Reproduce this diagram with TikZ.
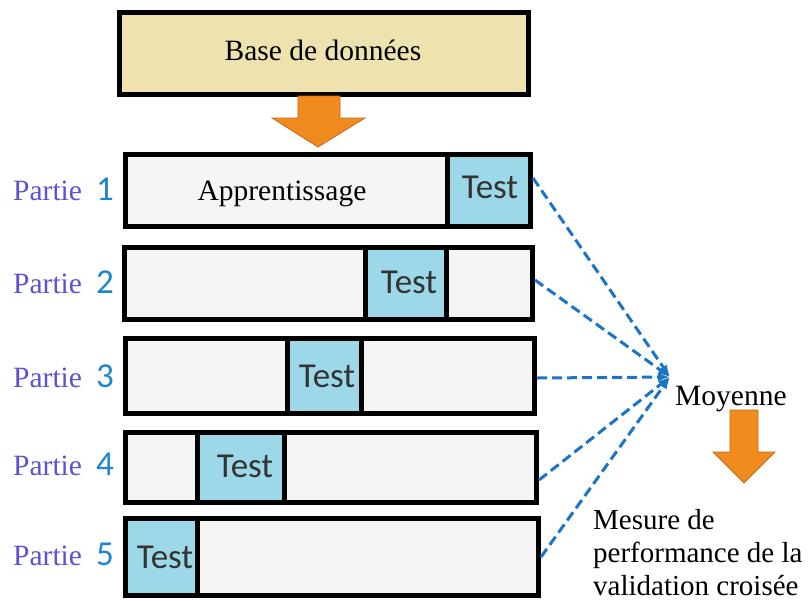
\documentclass[tikz,border=0pt]{standalone}
\usepackage{fontspec}
\setmainfont{Liberation Serif}
\newfontfamily\carlito{Carlito}
\usetikzlibrary{arrows.meta}

\definecolor{dbfill}{HTML}{EEE2AE}
\definecolor{rowfill}{HTML}{F5F5F5}
\definecolor{testfill}{HTML}{9DD8E8}
\definecolor{orangefill}{HTML}{F28B1E}
\definecolor{orangeedge}{HTML}{C06A1A}
\definecolor{partiecol}{HTML}{5A52D2}
\definecolor{numcol}{HTML}{1C84D0}
\definecolor{linkcol}{HTML}{1B74C6}
\definecolor{testtext}{HTML}{333333}

\tikzset{
  frame/.style={draw=black, line width=5pt, inner sep=0pt},
  dbbox/.style={frame, fill=dbfill, minimum width=409pt, minimum height=82pt},
  rowbox/.style={frame, fill=rowfill},
  testbox/.style={frame, fill=testfill},
  testlabel/.style={inner sep=0pt, anchor=base, text=testtext,
    font=\carlito\fontsize{35}{40}\selectfont},
  serif/.style={inner sep=0pt, font=\fontsize{29.5}{33.5}\selectfont},
  partie/.style={inner sep=0pt, anchor=base west},
  link/.style={draw=linkcol, line width=3pt, dash pattern=on 10pt off 5pt,
    -{Latex[length=12pt,width=9pt]}},
  bigarrow/.style={fill=orangefill, draw=orangeedge, line width=0.8pt},
}

\newcommand{\partielabel}[1]{{\color{partiecol}\fontsize{29.5}{33}\selectfont Partie}\hspace{14pt}{\color{numcol}\carlito\fontsize{35}{36}\selectfont #1}}

\begin{document}
\begin{tikzpicture}[x=1pt, y=-1pt]
\useasboundingbox (0,0) rectangle (810,600);

% database
\node[dbbox] (db) at (324,53) {};
\node[serif, anchor=base] (dbtext) at (323,60) {Base de données};

% arrow from the database to the splits
\path[bigarrow] (298,96) -- (340,96) -- (340,118) -- (365,118) -- (318,147)
  -- (272,118) -- (298,118) -- cycle;

% the five splits
\node[rowbox, minimum width=405pt, minimum height=72pt] (row1) at (328,190.5) {};
\node[rowbox, minimum width=408pt, minimum height=72pt] (row2) at (328.5,283.5) {};
\node[rowbox, minimum width=409pt, minimum height=75pt] (row3) at (330,376) {};
\node[rowbox, minimum width=411pt, minimum height=70pt] (row4) at (331,467.5) {};
\node[rowbox, minimum width=413pt, minimum height=77pt] (row5) at (332,557) {};

% test folds
\node[testbox, minimum width=83pt, minimum height=72pt] (test1) at (489,190.5) {};
\node[testbox, minimum width=81pt, minimum height=72pt] (test2) at (406,283.5) {};
\node[testbox, minimum width=74pt, minimum height=75pt] (test3) at (324.5,376) {};
\node[testbox, minimum width=87pt, minimum height=70pt] (test4) at (241,467.5) {};
\node[testbox, minimum width=72pt, minimum height=77pt] (test5) at (161.5,557) {};

\node[testlabel] (t1) at (490,198) {Test};
\node[testlabel] (t2) at (409,293) {Test};
\node[testlabel] (t3) at (327,387) {Test};
\node[testlabel] (t4) at (245,477) {Test};
\node[testlabel] (t5) at (165,568) {Test};

\node[serif, anchor=base] (appr) at (282,200) {Apprentissage};

% split labels
\node[partie] (p1) at (13,200) {\partielabel{1}};
\node[partie] (p2) at (13,293) {\partielabel{2}};
\node[partie] (p3) at (13,387) {\partielabel{3}};
\node[partie] (p4) at (13,475) {\partielabel{4}};
\node[partie] (p5) at (13,565) {\partielabel{5}};

% averaging of the test scores
\coordinate (avg) at (670,377);
\coordinate (o1) at ([yshift=12.5pt]row1.east);
\coordinate (o2) at ([yshift=3.5pt]row2.east);
\coordinate (o3) at ([yshift=-2pt]row3.east);
\coordinate (o4) at ([yshift=-12.5pt]row4.east);
\coordinate (o5) at (row5.east);
\foreach \o in {o1,o2,o3,o4,o5} \draw[link] (\o) -- (avg);

\node[serif, anchor=base west] (moy) at (675,405) {Moyenne};

% arrow to the final measure
\path[bigarrow] (730,410) -- (758,410) -- (758,452) -- (775,452) -- (744,483)
  -- (713,452) -- (730,452) -- cycle;

\node[serif, anchor=north west, align=left, font=\fontsize{29}{33}\selectfont]
  (mesure) at (593,509) {Mesure de\\performance de la\\validation croisée};
\end{tikzpicture}
\end{document}
